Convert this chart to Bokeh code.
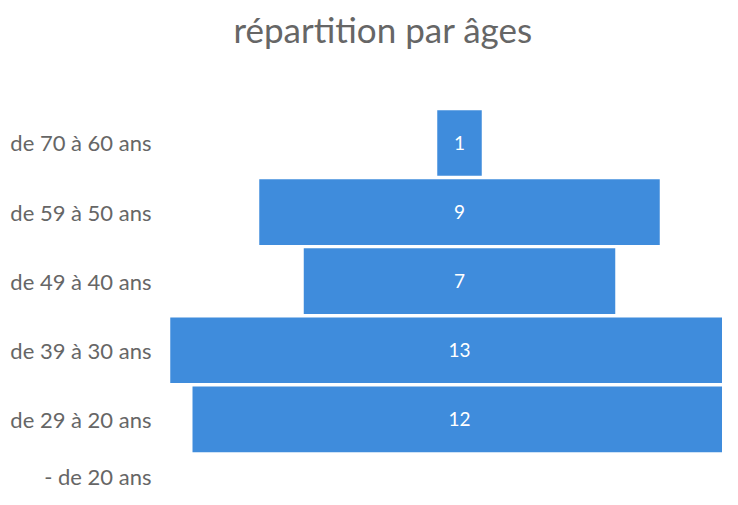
from bokeh.plotting import figure
from bokeh.models import Range1d, ColumnDataSource, FixedTicker, LabelSet
from bokeh.core.properties import value
from bokeh.embed import file_html
from bokeh.resources import INLINE

categories = ["de 70 à 60 ans", "de 59 à 50 ans", "de 49 à 40 ans",
              "de 39 à 30 ans", "de 29 à 20 ans", "- de 20 ans"]
counts = [1, 9, 7, 13, 12, 0]

n = len(categories)
ypos = [n - 1 - i for i in range(n)]
src = ColumnDataSource(dict(
    y=ypos,
    left=[-c / 2 for c in counts],
    right=[c / 2 for c in counts],
    mid=[0] * n,
    lab=[str(c) if c > 0 else "" for c in counts],
))

p = figure(width=722, height=489, output_backend="svg", toolbar_location=None,
           x_range=Range1d(-6.517, 5.91), y_range=Range1d(-0.0145, 6.28),
           x_axis_location=None,
           title="répartition par âges", min_border_bottom=0, min_border_right=0,
           min_border_left=169, min_border_top=0)
p.title.align = "left"
p.title.offset = 64
p.title.text_font = "Lato"
p.title.text_font_style = "normal"
p.title.text_font_size = "35px"
p.title.text_color = "#666666"

p.hbar(y="y", left="left", right="right", height=0.95, source=src,
       fill_color="#3f8cdc", line_color=None)
p.add_layout(LabelSet(x="mid", y="y", text="lab", source=src, text_align="center",
                      text_baseline="middle", text_color="white",
                      text_font=value("Lato"), text_font_size="19px"))

p.yaxis.ticker = FixedTicker(ticks=ypos)
p.yaxis.major_label_overrides = {y: c for y, c in zip(ypos, categories)}
p.yaxis.major_label_text_font = "Lato"
p.yaxis.major_label_text_font_size = "22px"
p.yaxis.major_label_text_color = "#666666"
p.yaxis.axis_line_color = None
p.yaxis.major_tick_line_color = None
p.yaxis.minor_tick_line_color = None
p.yaxis.major_label_standoff = 12
p.xgrid.visible = False
p.ygrid.visible = False
p.outline_line_color = None

open("out.html", "w").write(file_html(p, INLINE))
